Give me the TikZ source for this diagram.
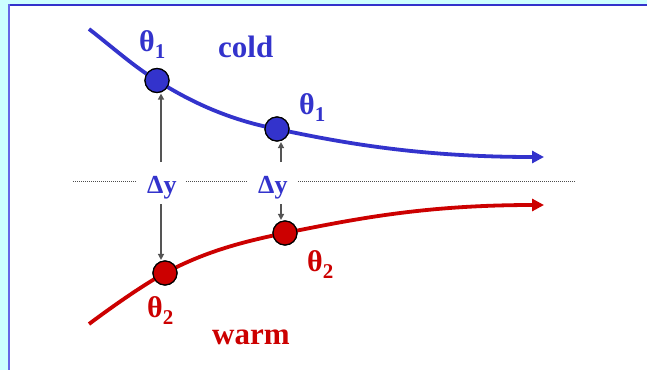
\documentclass[tikz,border=0pt]{standalone}
\usepackage{fontspec}
\setmainfont{Liberation Serif}
\usetikzlibrary{arrows.meta}
\definecolor{cblue}{HTML}{3333CC}
\definecolor{cred}{HTML}{CC0000}
\definecolor{cyanbg}{HTML}{CCFFFF}
\definecolor{lborder}{HTML}{6666E6}
\definecolor{garrow}{HTML}{555555}
\newcommand\subn[1]{\raisebox{-7pt}{\fontsize{21}{21}\selectfont #1}}
\tikzset{
  theta/.style={anchor=base west,inner sep=0pt,font=\fontsize{30}{30}\selectfont\bfseries},
  word/.style={anchor=base west,inner sep=0pt,font=\fontsize{31}{31}\selectfont\bfseries},
  dylab/.style={anchor=base west,inner sep=0pt,text=cblue,font=\fontsize{26}{26}\selectfont\bfseries},
  dot/.style={circle,draw=black,line width=1.2pt,minimum size=24pt,inner sep=0pt},
  curve/.style={line width=3.8pt,-{Triangle[length=12pt,width=12pt]}},
  garr/.style={draw=garrow,line width=1.5pt,-{Triangle[length=6pt,width=6pt]},shorten >=0.5pt},
  dline/.style={draw=black!70,line width=0.9pt,dash pattern=on 1pt off 1pt}
}
\begin{document}
\begin{tikzpicture}[x=1pt,y=-1pt]
\useasboundingbox (0,0) rectangle (647,370);
\fill[cyanbg] (0,0) rectangle (647,370);
\fill[white] (9,5) rectangle (647,370);
\draw[cblue,line width=2pt] (8,5) -- (647,5);
\draw[lborder,line width=2pt] (9,4) -- (9,370);
% curve end points
\coordinate (bs) at (89,29);
\coordinate (be) at (544,157);
\coordinate (rs) at (89,324);
\coordinate (re) at (544,205);
% dots
\node[dot,fill=cblue] (b1) at (157,80.5) {};
\node[dot,fill=cblue] (b2) at (277,129) {};
\node[dot,fill=cred] (r1) at (165,273) {};
\node[dot,fill=cred] (r2) at (285,233) {};
\draw[cblue,curve] (bs) .. controls (111,46) and (135,67.5) .. (b1.center)
  .. controls (200,108) and (240,122) .. (b2.center)
  .. controls (347,144) and (424,157) .. (be);
\draw[cred,curve] (rs) .. controls (111,307.5) and (143,285) .. (r1.center)
  .. controls (208,250) and (247,241) .. (r2.center)
  .. controls (355,219) and (424,205) .. (re);
\node[dot,fill=cblue] at (b1) {};
\node[dot,fill=cblue] at (b2) {};
\node[dot,fill=cred] at (r1) {};
\node[dot,fill=cred] at (r2) {};
% labels
\node[theta,text=cblue] (t1a) at (139,51) {θ\subn{1}};
\node[word,text=cblue] (cold) at (218,57) {cold};
\node[theta,text=cblue] (t1b) at (299,114) {θ\subn{1}};
\node[theta,text=cred] (t2b) at (307,271) {θ\subn{2}};
\node[theta,text=cred] (t2a) at (147,317) {θ\subn{2}};
\node[word,text=cred] (warm) at (212,344) {warm};
% delta y labels
\node[dylab] (dy1) at (147,193) {Δy};
\node[dylab] (dy2) at (258,193) {Δy};
% dotted line
\coordinate (ds) at (73,181);
\coordinate (dg1) at (136,181);
\coordinate (dg2) at (186,181);
\coordinate (dg3) at (248,181);
\coordinate (dg4) at (298,181);
\coordinate (de) at (576,181);
\draw[dline] (ds) -- (dg1);
\draw[dline] (dg2) -- (dg3);
\draw[dline] (dg4) -- (de);
% vertical arrows
\coordinate (a1u) at (161,162);
\coordinate (a1d) at (161,204);
\coordinate (a2u) at (281,162);
\coordinate (a2d) at (281,204);
\draw[garr] (a1u) -- (a1u |- b1.south);
\draw[garr] (a2u) -- (a2u |- b2.south);
\draw[garr] (a1d) -- (a1d |- r1.north);
\draw[garr] (a2d) -- (a2d |- r2.north);
\end{tikzpicture}
\end{document}
